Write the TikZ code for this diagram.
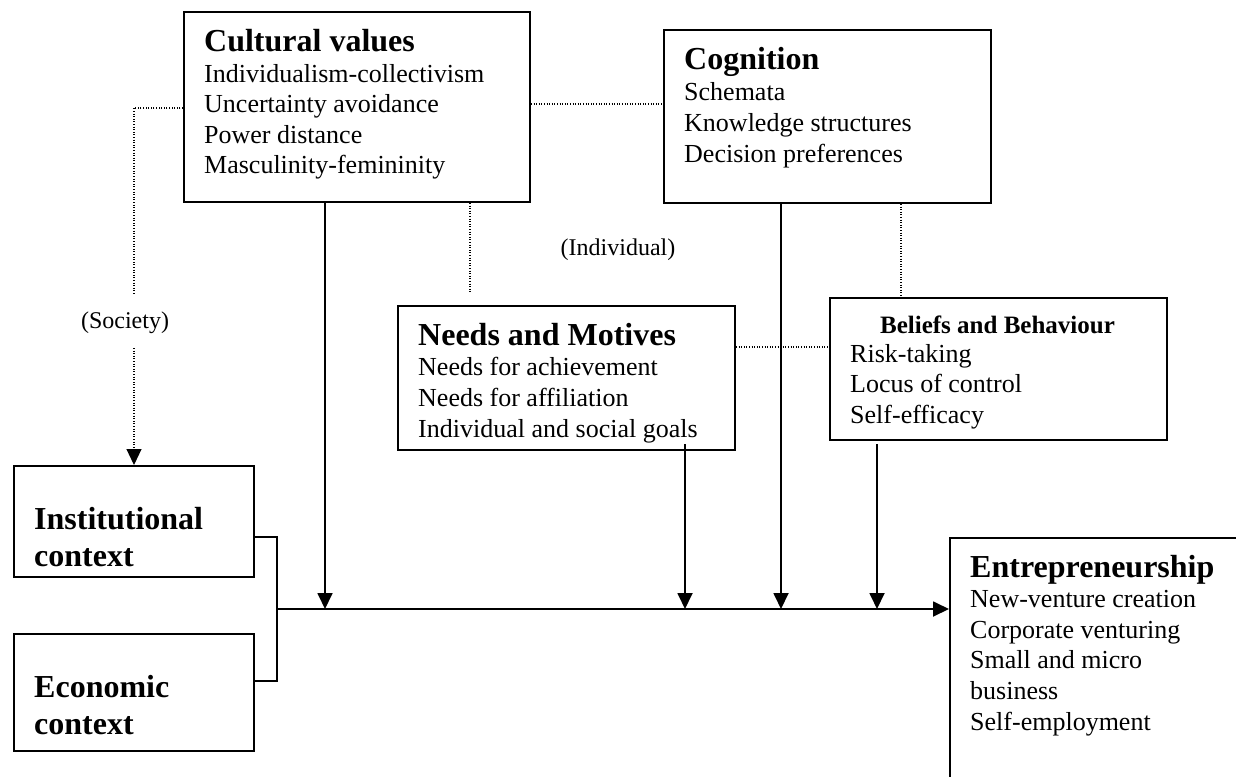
\documentclass[tikz,border=0pt]{standalone}
\usepackage{fontspec}
\setmainfont{Liberation Serif}
\usetikzlibrary{arrows.meta}
\newcommand\ttl{\bfseries\fontsize{32}{36}\selectfont}
\newcommand\btl{\bfseries\fontsize{25}{30}\selectfont}
\newcommand\rgl{\fontsize{26}{30}\selectfont}
\newcommand\lbl{\fontsize{24}{28}\selectfont}
\newcommand\stk[2]{\vtop{\baselineskip=#1\lineskiplimit=-100pt\lineskip=0pt\halign{##\hfil\cr#2\crcr}}}
\tikzset{
  box/.style={draw=black, line width=2pt, anchor=north west, inner sep=0pt},
  txt/.style={inner sep=0pt, font=\rgl, anchor=base west},
  conn/.style={draw=black, line width=1.8pt},
  tip/.style={-{Triangle[length=16pt,width=15pt]}},
  arr/.style={conn, tip},
  dot/.style={draw=black, line width=1.1pt, dash pattern=on 1pt off 1.6pt},
}
\begin{document}
\begin{tikzpicture}[x=1pt,y=-1pt]
\useasboundingbox (0,0) rectangle (1236,776);
\fill[white] (0,0) rectangle (1236,776);
% boxes
\node[box, minimum width=346pt, minimum height=190pt] (cult) at (183,11) {};
\node[box, minimum width=327pt, minimum height=173pt] (cog) at (663,29) {};
\node[box, minimum width=337pt, minimum height=144pt] (needs) at (397,305) {};
\node[box, minimum width=337pt, minimum height=142pt] (bel) at (829,297) {};
\node[box, minimum width=240pt, minimum height=111pt] (inst) at (13,465) {};
\node[box, minimum width=240pt, minimum height=117pt] (econ) at (13,633) {};
\node[box, minimum width=330pt, minimum height=270pt] (ent) at (949,537) {};
% texts
\node[txt] (cultT) at (204,52) {\stk{30.5pt}{\ttl Cultural values\cr Individualism-collectivism\cr Uncertainty avoidance\cr Power distance\cr Masculinity-femininity}};
\node[txt] (cogT) at (684,70) {\stk{30.7pt}{\ttl Cognition\cr Schemata\cr Knowledge structures\cr Decision preferences}};
\node[txt] (needsT) at (418,345) {\stk{30.7pt}{\ttl Needs and Motives\cr Needs for achievement\cr Needs for affiliation\cr Individual and social goals}};
\node[txt, anchor=base, font=\btl] (belH) at (997.5,333) {Beliefs and Behaviour};
\node[txt] (belT) at (850,362) {\stk{30.5pt}{Risk-taking\cr Locus of control\cr Self-efficacy}};
\node[txt] (instT) at (34,529) {\stk{37pt}{\ttl Institutional\cr \ttl context}};
\node[txt] (econT) at (34,697) {\stk{37pt}{\ttl Economic\cr \ttl context}};
\node[txt] (entT) at (970,577) {\stk{30.6pt}{\ttl Entrepreneurship\cr New-venture creation\cr Corporate venturing\cr Small and micro\cr business\cr Self-employment}};
% labels
\node[inner sep=0pt, font=\lbl] (soc) at (125,323) {(Society)};
\node[inner sep=0pt, font=\lbl] (ind) at (618,250) {(Individual)};
% coordinates
\coordinate (sA) at (134,295);
\coordinate (sB) at (134,348);
\coordinate (iA) at (470,294);
\coordinate (mL) at (277,609);
\coordinate (bT) at (277,537);
\coordinate (bB) at (277,681);
\coordinate (xC) at (325,609);
\coordinate (xN) at (685,609);
\coordinate (xG) at (781,609);
\coordinate (xB) at (877,609);
\coordinate (xD) at (901,250);
% dotted links
\draw[dot] ([yshift=-1pt]cult.west) -| (sA);
\draw[dot, tip] (sB) -- (sB |- inst.north);
\draw[dot] ([yshift=3pt]cult.east) -- ([yshift=3pt]cult.east -| cog.west);
\draw[dot] (iA |- cult.south) -- (iA);
\draw[dot] (xD |- cog.south) -- (xD |- bel.north);
\draw[dot] ([yshift=31pt]needs.east) -- ([yshift=31pt]needs.east -| bel.west);
% bracket and main line
\draw[conn] (bT -| inst.east) -- (bT) -- (bB) -- (bB -| econ.east);
\draw[arr] (mL) -- (mL -| ent.west);
% vertical arrows
\draw[arr] ([yshift=7pt]xN |- needs.south) -- (xN);
\draw[arr] (xC |- cult.south) -- (xC);
\draw[arr] (xG |- cog.south) -- (xG);
\draw[arr] ([yshift=-3pt]xB |- bel.south) -- (xB);
\end{tikzpicture}
\end{document}
